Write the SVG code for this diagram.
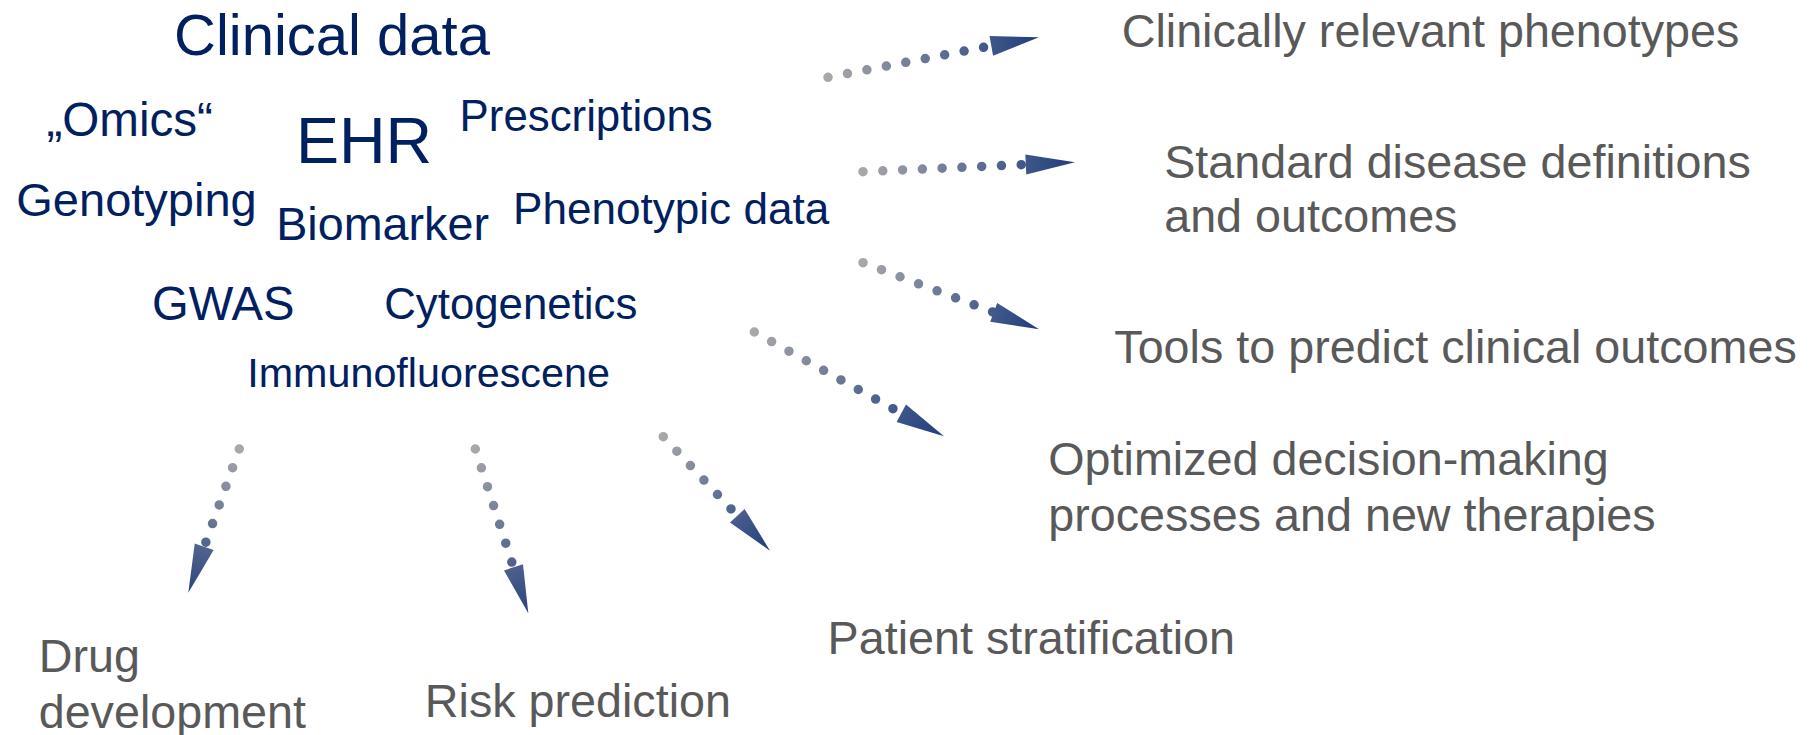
<svg xmlns="http://www.w3.org/2000/svg" width="1820" height="735" viewBox="0 0 1820 735">
<style>
.src{font-family:"Liberation Sans",Arial,sans-serif;fill:#002060}
.out{font-family:"Liberation Sans",Arial,sans-serif;fill:#595959;font-size:46.7px}
.dots{fill:none;stroke-width:9.5;stroke-linecap:round;stroke-dasharray:0 19.8}
</style>
<defs>
<linearGradient id="g1" gradientUnits="userSpaceOnUse" x1="828" y1="77.3" x2="1039" y2="37.3"><stop offset="0" stop-color="#a8a8a8"/><stop offset="1" stop-color="#1f3d7e"/></linearGradient>
<linearGradient id="g2" gradientUnits="userSpaceOnUse" x1="863" y1="171.7" x2="1075" y2="162.3"><stop offset="0" stop-color="#a8a8a8"/><stop offset="1" stop-color="#1f3d7e"/></linearGradient>
<linearGradient id="g3" gradientUnits="userSpaceOnUse" x1="863" y1="262.7" x2="1039" y2="329.3"><stop offset="0" stop-color="#a8a8a8"/><stop offset="1" stop-color="#1f3d7e"/></linearGradient>
<linearGradient id="g4" gradientUnits="userSpaceOnUse" x1="754.3" y1="332" x2="944" y2="436.3"><stop offset="0" stop-color="#a8a8a8"/><stop offset="1" stop-color="#1f3d7e"/></linearGradient>
<linearGradient id="g5" gradientUnits="userSpaceOnUse" x1="239.3" y1="449" x2="188.3" y2="592.7"><stop offset="0" stop-color="#a8a8a8"/><stop offset="1" stop-color="#2a4480"/></linearGradient>
<linearGradient id="g6" gradientUnits="userSpaceOnUse" x1="475.3" y1="449" x2="528.3" y2="613.3"><stop offset="0" stop-color="#a8a8a8"/><stop offset="1" stop-color="#2a4480"/></linearGradient>
<linearGradient id="g7" gradientUnits="userSpaceOnUse" x1="663.3" y1="436.7" x2="770" y2="550.7"><stop offset="0" stop-color="#a8a8a8"/><stop offset="1" stop-color="#1f3d7e"/></linearGradient>
</defs>
<rect width="1820" height="735" fill="#ffffff"/>
<g id="sources">
<g id="clinical-data"><text class="src" x="174" y="54.5" font-size="58">Clinical data</text></g>
<g id="omics"><text class="src" x="46.4" y="135.8" font-size="47.6">„Omics“</text></g>
<g id="ehr"><text class="src" x="296" y="162.5" font-size="64.5">EHR</text></g>
<g id="prescriptions"><text class="src" x="459.6" y="131" font-size="43.8">Prescriptions</text></g>
<g id="genotyping"><text class="src" x="16.3" y="216" font-size="47">Genotyping</text></g>
<g id="biomarker"><text class="src" x="276.2" y="240" font-size="46.7">Biomarker</text></g>
<g id="phenotypic-data"><text class="src" x="513" y="224" font-size="44.1">Phenotypic data</text></g>
<g id="gwas"><text class="src" x="152" y="320" font-size="47.2">GWAS</text></g>
<g id="cytogenetics"><text class="src" x="384.2" y="319" font-size="43.8">Cytogenetics</text></g>
<g id="immunofluorescene"><text class="src" x="247.2" y="386.5" font-size="41.3">Immunofluorescene</text></g>
</g>
<g id="connectors">
<g><path class="dots" stroke="url(#g1)" d="M828,77.3 L991.3,45.8"/><polygon fill="url(#g1)" points="993.05,55.65 989.55,35.95 1039,37.3"/></g>
<g><path class="dots" stroke="url(#g2)" d="M863,171.7 L1025.8,164.5"/><polygon fill="url(#g2)" points="1026.25,174.5 1025.35,154.5 1075,162.3"/></g>
<g><path class="dots" stroke="url(#g3)" d="M863,262.7 L993.7,312.3"/><polygon fill="url(#g3)" points="990.2,321.7 997.2,302.9 1039,329.3"/></g>
<g><path class="dots" stroke="url(#g4)" d="M754.3,332 L901.3,413.3"/><polygon fill="url(#g4)" points="896.6,422.1 906,404.5 944,436.3"/></g>
<g><path class="dots" stroke="url(#g5)" d="M239.3,449 L204.2,546.8"/><polygon fill="url(#g5)" points="194.75,543.5 213.65,550.1 188.3,592.7"/></g>
<g><path class="dots" stroke="url(#g6)" d="M475.3,449 L513.5,567.3"/><polygon fill="url(#g6)" points="504,570.4 523,564.2 528.3,613.3"/></g>
<g><path class="dots" stroke="url(#g7)" d="M663.3,436.7 L737.3,515.7"/><polygon fill="url(#g7)" points="730,522.5 744.6,508.9 770,550.7"/></g>
</g>
<g id="outcomes">
<g id="phenotypes"><text class="out" x="1121.7" y="47">Clinically relevant phenotypes</text></g>
<g id="definitions"><text class="out" x="1164.2" y="177.6">Standard disease definitions</text><text class="out" x="1164.2" y="232">and outcomes</text></g>
<g id="tools"><text class="out" x="1114.3" y="363.3">Tools to predict clinical outcomes</text></g>
<g id="decision"><text class="out" x="1048.3" y="475">Optimized decision-making</text><text class="out" x="1048.3" y="531">processes and new therapies</text></g>
<g id="stratification"><text class="out" x="827.6" y="653.5">Patient stratification</text></g>
<g id="drug"><text class="out" x="38.7" y="671.7">Drug</text><text class="out" x="38.7" y="728">development</text></g>
<g id="risk"><text class="out" x="424.8" y="717.3">Risk prediction</text></g>
</g>
</svg>
